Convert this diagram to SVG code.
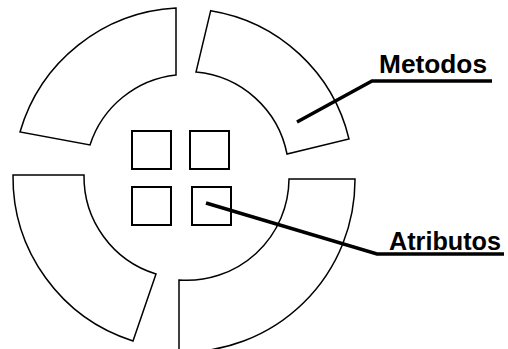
<svg xmlns="http://www.w3.org/2000/svg" width="508" height="349" viewBox="0 0 508 349">
  <style>
    .seg { fill: #fff; stroke: #000; stroke-width: 1.5; stroke-linejoin: miter; }
    .box { fill: #fff; stroke: #000; stroke-width: 2; }
    .lead { fill: none; stroke: #000; stroke-width: 3.5; stroke-linejoin: miter; stroke-linecap: butt; }
    .lbl { font-family: "Liberation Sans", Arial, sans-serif; font-weight: bold; font-size: 25px; fill: #000; }
  </style>
  <rect width="508" height="349" fill="#fff"/>
  <g id="metodo-top-left">
    <path class="seg" d="M176,8 L176,75 A102,102 0 0 0 90,145 L20,132 A172,172 0 0 1 176,8 Z"/>
  </g>
  <g id="metodo-top-right">
    <path class="seg" d="M210.7,10.7 L196,72 A102,102 0 0 1 287,154 L349,139 A170,170 0 0 0 210.7,10.7 Z"/>
  </g>
  <g id="metodo-bottom-left">
    <path class="seg" d="M13,175 L84,175 A102,102 0 0 0 156,274 L133,341 A172,172 0 0 1 13,175 Z"/>
  </g>
  <g id="metodo-bottom-right">
    <path class="seg" d="M289,179 L355,179 A172,172 0 0 1 179,352 L179,280 A102,102 0 0 0 289,179 Z"/>
  </g>
  <g id="atributo-1"><rect class="box" x="132" y="131" width="39" height="38"/></g>
  <g id="atributo-2"><rect class="box" x="190" y="131" width="39" height="38"/></g>
  <g id="atributo-3"><rect class="box" x="132" y="187" width="39" height="38"/></g>
  <g id="atributo-4"><rect class="box" x="192" y="187" width="39" height="38"/></g>
  <g id="label-metodos">
    <text class="lbl" x="379" y="73" textLength="108" lengthAdjust="spacingAndGlyphs">Metodos</text>
  </g>
  <g id="label-atributos">
    <text class="lbl" x="389" y="250" textLength="112" lengthAdjust="spacingAndGlyphs">Atributos</text>
  </g>
  <g id="connectors">
    <polyline class="lead" points="297,122 372,81 492,81"/>
    <polyline class="lead" points="206,203 377,254 504,254"/>
  </g>
</svg>
